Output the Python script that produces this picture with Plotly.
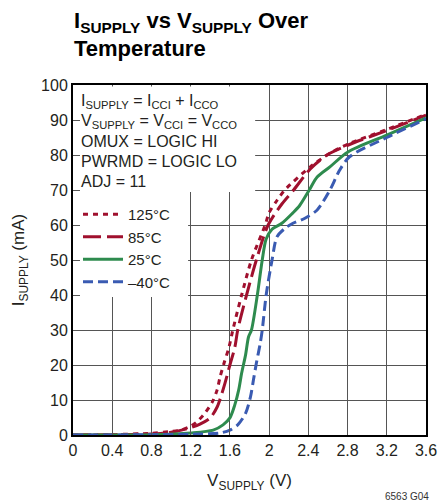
import plotly.graph_objects as go

# ---------------- data ----------------
v_125 = [0, 0.4, 0.8, 1.0, 1.1, 1.2, 1.26, 1.33, 1.42, 1.47, 1.50, 1.54, 1.59, 1.63, 1.72, 1.82, 1.96, 2.0, 2.08, 2.16, 2.42, 2.62, 2.82, 3.2, 3.6]
i_125 = [0, 0.1, 0.5, 1.0, 1.4, 2.5, 3.7, 5.7, 9.4, 12.9, 16.6, 20.5, 25, 30, 40, 50, 60, 63.5, 67, 70, 76.6, 80.5, 83.3, 87.3, 91.6]

v_85 = [0, 0.4, 0.8, 1.0, 1.19, 1.3, 1.40, 1.47, 1.52, 1.55, 1.60, 1.65, 1.68, 1.77, 1.87, 1.99, 2.13, 2.25, 2.42, 2.59, 2.82, 3.2, 3.6]
i_85 = [0, 0.1, 0.3, 0.8, 2.0, 3.2, 4.9, 8.0, 12.0, 14.8, 20, 25, 30, 40, 50, 60, 66, 70, 76, 80, 83, 87, 91.4]

v_25 = [0, 0.8, 1.2, 1.43, 1.53, 1.60, 1.65, 1.69, 1.72, 1.76, 1.79, 1.82, 1.88, 1.93, 1.97, 2.03, 2.13, 2.24, 2.31, 2.41, 2.49, 2.62, 2.8, 3.2, 3.6]
i_25 = [0, 0.1, 0.6, 1.4, 2.9, 4.9, 8.6, 12.9, 17.7, 22.9, 28, 30, 40, 50, 56, 58.8, 60.5, 63.4, 65.5, 70, 73.7, 76.6, 80.8, 85.7, 90.6]

v_m40 = [0, 1.2, 1.5, 1.60, 1.68, 1.76, 1.81, 1.84, 1.87, 1.91, 1.93, 1.97, 2.03, 2.08, 2.16, 2.23, 2.37, 2.49, 2.62, 2.72, 2.82, 3.2, 3.6]
i_m40 = [0, 0.2, 0.6, 1.4, 2.9, 6.2, 10.9, 15.7, 20.5, 26.3, 30, 40, 50, 56.6, 59, 60.3, 62, 64.3, 70, 75.7, 79.5, 85, 90.3]

series_names = ["125°C", "85°C", "25°C", "–40°C"]
series_v = [v_125, v_85, v_25, v_m40]
series_i = [i_125, i_85, i_25, i_m40]
series_colors = ["#A0102E", "#A0102E", "#2E8B4E", "#3A5BB2"]
series_dash = ["5px,5px", "18px,6px", "solid", "10px,5px"]

x_ticks = [0, 0.4, 0.8, 1.2, 1.6, 2.0, 2.4, 2.8, 3.2, 3.6]
x_ticktext = ["0", "0.4", "0.8", "1.2", "1.6", "2", "2.4", "2.8", "3.2", "3.6"]
y_ticks = list(range(0, 101, 10))

condition_lines = [
    "I<sub>SUPPLY</sub> = I<sub>CCI</sub> + I<sub>CCO</sub>",
    "V<sub>SUPPLY</sub> = V<sub>CCI</sub> = V<sub>CCO</sub>",
    "OMUX = LOGIC HI",
    "PWRMD = LOGIC LO",
    "ADJ = 11",
]

FONT = "Liberation Sans, Arial, sans-serif"
TEXT = "#231F20"
GRID = "#555555"

fig = go.Figure()
for name, xv, yv, col, dash in zip(series_names, series_v, series_i, series_colors, series_dash):
    fig.add_trace(go.Scatter(
        x=xv, y=yv, name=name, mode="lines",
        line=dict(color=col, width=3, dash=dash, shape="spline", smoothing=0.8),
    ))

# white panels behind the condition text and the legend (in axis units of the plot frame)
x_span, y_span = 3.6, 100.0
fig.add_shape(type="rect", xref="x", yref="y", x0=0.004 * x_span, x1=0.516 * x_span,
              y0=0.694 * y_span, y1=0.996 * y_span,
              fillcolor="white", line_width=0, layer="between")
fig.add_shape(type="rect", xref="x", yref="y", x0=0.004 * x_span, x1=0.326 * x_span,
              y0=0.394 * y_span, y1=0.694 * y_span,
              fillcolor="white", line_width=0, layer="between")

# condition text lines
centers_px = [101, 121, 141, 161, 181]
for txt, cy in zip(condition_lines, centers_px):
    fig.add_annotation(text=txt, xref="paper", yref="paper", x=(79 - 73) / 353, y=(435 - cy) / 350,
                       xanchor="left", yanchor="middle", showarrow=False,
                       font=dict(family=FONT, size=16, color=TEXT))

# title (two lines)
fig.add_annotation(text="I<sub>SUPPLY</sub> vs V<sub>SUPPLY</sub> Over", xref="paper", yref="paper",
                   x=(72 - 73) / 353, y=(435 - 22) / 350, xanchor="left", yanchor="middle", showarrow=False,
                   font=dict(family=FONT, size=22, color="#000000", weight="bold"))
fig.add_annotation(text="Temperature", xref="paper", yref="paper",
                   x=(72 - 73) / 353, y=(435 - 48) / 350, xanchor="left", yanchor="middle", showarrow=False,
                   font=dict(family=FONT, size=22, color="#000000", weight="bold"))

# figure code
fig.add_annotation(text="6563 G04", xref="paper", yref="paper", x=(431 - 73) / 353, y=(435 - 497) / 350,
                   xanchor="right", yanchor="middle", showarrow=False,
                   font=dict(family=FONT, size=10, color="#333333"))

axis_common = dict(
    showgrid=True, gridcolor=GRID, gridwidth=1.3,
    showline=True, linecolor="#000000", linewidth=2, mirror=True,
    ticks="inside", ticklen=7, tickcolor=GRID, tickwidth=1.3,
    zeroline=False, automargin=False,
    tickfont=dict(family=FONT, size=16, color=TEXT),
)

fig.update_layout(
    width=438, height=504,
    margin=dict(l=73, r=12, t=85, b=69, autoexpand=False),
    paper_bgcolor="white", plot_bgcolor="white",
    showlegend=True,
    legend=dict(x=(78 - 73) / 353, y=(435 - 198) / 350, xanchor="left", yanchor="top",
                bgcolor="rgba(0,0,0,0)", font=dict(family=FONT, size=15, color=TEXT),
                itemwidth=40, tracegroupgap=0),
    xaxis=dict(range=[0, 3.6], tickvals=x_ticks, ticktext=x_ticktext,
               title=dict(text="V<sub>SUPPLY</sub> (V)", font=dict(family=FONT, size=17, color=TEXT), standoff=16),
               **axis_common),
    yaxis=dict(range=[0, 100], tickvals=y_ticks,
               title=dict(text="I<sub>SUPPLY</sub> (mA)", font=dict(family=FONT, size=17, color=TEXT), standoff=12),
               **axis_common),
)

fig.write_html("out.html")
